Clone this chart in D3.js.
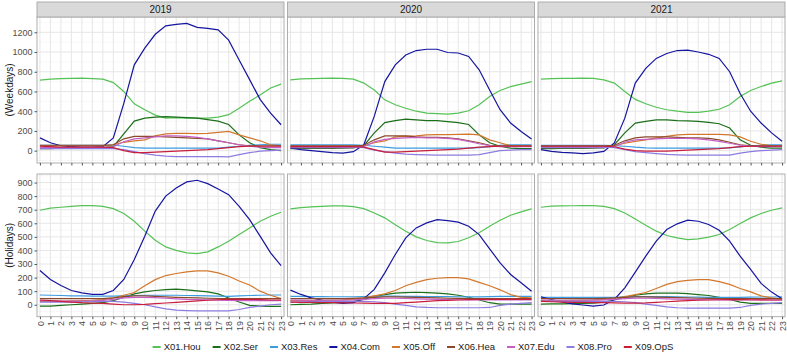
<!DOCTYPE html>
<html>
<head>
<meta charset="utf-8">
<script src="https://cdn.jsdelivr.net/npm/d3@7"></script>
<style>
  body { margin: 0; background: #fff; }
  svg { font-family: "Liberation Sans", Arial, sans-serif; }
</style>
</head>
<body>
<svg id="chart" width="787" height="357"></svg>
<script>
// data
const hours = [0,1,2,3,4,5,6,7,8,9,10,11,12,13,14,15,16,17,18,19,20,21,22,23];
const years = ["2019", "2020", "2021"];
const dayTypes = ["(Weekdays)", "(Holidays)"];
const categories = ["X01.Hou","X02.Ser","X03.Res","X04.Com","X05.Off","X06.Hea","X07.Edu","X08.Pro","X09.OpS"];
const colors = ["#55c255","#1b6f1b","#3d9be0","#1515a0","#d2782d","#8b4a2b","#c75fc7","#8f7be0","#c81e3c"];

const weekdayTicks = [0,200,400,600,800,1000,1200];
const holidayTicks = [0,100,200,300,400,500,600,700,800,900];

// one row per category, in category order
const wd2019 = [
  [715,725,730,733,735,731,725,690,600,475,415,360,330,335,330,330,330,340,365,430,500,565,635,675],
  [20,20,25,25,28,30,32,40,170,300,330,340,345,340,335,330,315,300,265,160,80,30,10,0],
  [55,55,55,55,55,55,55,55,45,30,25,25,25,25,25,25,25,25,35,45,55,60,65,65],
  [130,80,50,40,35,35,40,130,480,870,1040,1180,1265,1280,1290,1250,1240,1225,1120,920,720,520,380,263],
  [50,50,50,50,50,50,50,60,85,100,110,150,170,175,175,172,175,185,195,160,130,100,60,50],
  [55,55,55,55,55,55,55,60,120,145,145,145,140,135,130,125,120,100,80,60,50,50,50,50],
  [30,30,30,30,30,30,30,40,90,120,130,140,150,150,145,135,120,100,80,60,45,35,30,30],
  [20,20,20,20,20,20,20,20,10,-10,-30,-45,-55,-60,-60,-60,-60,-60,-62,-40,-20,-5,0,5],
  [45,40,35,35,35,35,35,30,0,-20,-20,-15,-10,-5,0,5,10,20,30,40,45,45,45,45]
];
const wd2020 = [
  [718,728,731,733,735,733,725,685,615,515,465,430,400,380,375,370,380,405,465,550,610,650,675,700],
  [20,20,22,22,24,25,28,50,180,285,305,320,313,305,305,295,285,265,160,80,45,25,20,20],
  [58,58,58,58,58,58,58,55,45,35,25,25,25,25,25,25,25,25,30,40,55,60,60,60],
  [27,10,0,-10,-20,-25,-10,60,350,700,870,970,1015,1028,1028,995,990,955,820,615,415,280,195,118],
  [45,45,45,45,45,45,45,50,80,100,140,145,150,160,162,163,165,168,160,110,80,50,50,50],
  [50,50,50,50,50,50,50,55,110,150,150,150,140,135,135,130,120,100,80,55,50,50,50,50],
  [30,30,30,30,30,30,30,40,90,115,125,130,135,130,130,125,115,95,70,50,40,40,40,40],
  [35,35,35,35,35,35,35,30,5,-10,-25,-35,-40,-43,-45,-45,-45,-45,-40,-20,0,5,10,10],
  [40,40,40,40,40,40,40,35,10,-15,-15,-10,-5,0,5,10,15,25,35,40,45,45,45,45]
];
const wd2021 = [
  [725,730,732,733,735,733,718,685,600,520,475,440,415,400,388,388,400,420,465,550,610,650,685,708],
  [20,20,22,22,24,25,28,60,180,280,297,313,313,305,303,297,286,273,230,110,55,35,25,25],
  [55,55,55,55,55,55,55,52,45,35,28,25,25,25,25,25,25,25,28,38,50,55,58,60],
  [10,-7,-17,-23,-30,-23,-7,78,330,685,835,935,985,1015,1020,1000,977,935,800,580,400,280,180,95],
  [40,40,40,40,40,40,42,50,75,95,110,130,145,160,165,165,165,165,160,140,95,65,50,45],
  [50,50,50,50,50,50,50,55,100,130,140,140,140,135,130,130,125,110,85,60,50,50,50,50],
  [30,30,30,30,30,30,30,40,85,110,115,120,125,125,125,120,110,95,75,55,45,40,40,40],
  [35,35,35,35,35,35,35,30,10,-10,-20,-30,-38,-42,-45,-45,-45,-45,-45,-25,-10,0,5,10],
  [45,45,45,45,45,45,45,40,15,0,-5,-5,-5,0,5,10,15,20,30,40,45,45,45,45]
];
const hd2019 = [
  [696,711,718,725,730,730,725,708,672,615,542,475,426,400,382,377,390,426,468,517,566,615,652,681],
  [-10,-10,-5,0,5,10,15,30,55,80,95,105,112,115,110,102,95,80,50,20,-5,-10,-12,-12],
  [72,70,68,66,65,64,63,63,65,68,70,70,70,70,68,67,65,63,62,65,68,70,72,72],
  [252,186,142,105,88,76,76,105,186,333,505,690,800,860,905,917,892,853,811,725,627,505,382,289],
  [25,25,25,28,30,33,38,50,70,90,140,185,215,230,242,250,250,235,210,175,145,100,70,45],
  [45,45,45,45,45,45,45,50,60,65,65,62,58,55,52,50,48,46,45,45,45,45,45,45],
  [30,28,27,26,26,28,32,40,50,55,55,52,48,44,40,38,36,34,32,30,30,30,30,30],
  [20,20,20,20,22,24,25,25,20,10,0,-15,-30,-40,-43,-45,-45,-45,-45,-35,-20,-10,0,5],
  [35,30,25,20,15,12,10,5,0,0,3,8,13,18,23,28,33,37,40,40,40,38,35,35]
];
const hd2020 = [
  [706,716,721,725,728,728,723,708,676,640,590,542,500,473,458,456,466,493,530,578,622,659,684,706],
  [0,3,5,10,14,18,25,40,60,75,85,90,92,90,85,80,70,55,35,15,5,5,5,5],
  [62,61,60,60,59,59,59,60,62,63,63,62,61,60,60,60,59,58,58,60,61,62,62,62],
  [108,76,51,34,20,10,15,44,113,235,370,493,566,603,627,620,608,578,517,412,309,223,162,100],
  [30,30,30,32,34,36,40,50,65,80,105,140,165,185,195,200,200,190,165,140,110,75,55,50],
  [45,45,45,45,45,45,47,50,55,58,58,56,54,52,50,48,47,46,45,45,45,45,45,45],
  [35,34,33,33,33,34,36,40,45,48,48,46,44,42,40,38,37,36,35,35,35,35,35,35],
  [20,22,24,25,25,25,25,25,22,15,5,-5,-15,-20,-22,-22,-22,-22,-22,-20,-5,5,10,15],
  [20,18,17,16,15,14,13,12,10,10,10,15,20,25,30,32,35,38,40,40,40,40,40,40]
];
const hd2021 = [
  [718,726,728,729,730,730,725,708,676,632,586,542,510,493,480,485,498,517,554,598,640,672,696,713],
  [5,6,7,8,10,12,20,35,55,70,80,85,85,85,82,75,68,55,40,20,10,10,10,10],
  [55,55,55,55,55,55,55,55,58,60,60,60,60,58,57,56,55,55,55,55,56,57,57,58],
  [59,39,20,7,-2,-10,-2,39,125,240,358,468,554,596,623,615,591,549,468,358,260,157,93,44],
  [30,30,30,32,34,36,40,48,60,75,90,120,150,170,180,185,185,170,150,120,95,65,50,40],
  [45,45,45,45,45,45,47,50,55,58,58,56,54,52,50,48,47,46,45,45,45,45,45,45],
  [35,34,33,33,33,34,36,40,45,48,48,46,44,42,40,38,37,36,35,35,35,35,35,35],
  [25,25,25,25,25,25,25,25,22,15,5,-5,-15,-22,-25,-25,-25,-25,-25,-20,-5,5,10,15],
  [25,22,20,18,17,16,15,14,12,12,14,18,22,26,30,33,35,37,38,38,37,36,35,35]
];

const panelData = [[wd2019, wd2020, wd2021], [hd2019, hd2020, hd2021]];

// layout
const svg = d3.select('#chart');
const panelLeft = [37, 287.5, 538];
const panelWidth = 247;
const rows = [
  { top: 17, bottom: 163, domain: [-125, 1355], ticks: weekdayTicks, minorStep: 100 },
  { top: 174, bottom: 316.7, domain: [-88, 963], ticks: holidayTicks, minorStep: 50 }
];

const gridMajor = '#e6e6e6';
const gridMinor = '#f2f2f2';
const borderColor = '#a6a6a6';
const axisText = '#4d4d4d';
const fontStack = '"Liberation Sans", Arial, sans-serif';

rows.forEach((row, r) => {
  const y = d3.scaleLinear().domain(row.domain).range([row.bottom, row.top]);
  const minorTicks = d3.range(row.ticks[0] - row.minorStep, row.ticks[row.ticks.length - 1] + row.minorStep * 2, row.minorStep * 2)
    .filter(v => v > row.domain[0] && v < row.domain[1]);

  years.forEach((year, c) => {
    const x = d3.scaleLinear().domain([-0.28, 23.28]).range([panelLeft[c], panelLeft[c] + panelWidth]);
    const g = svg.append('g');

    g.append('rect')
      .attr('x', panelLeft[c]).attr('y', row.top)
      .attr('width', panelWidth).attr('height', row.bottom - row.top)
      .attr('fill', '#fff');

    // grid
    g.selectAll('.minor')
      .data(minorTicks)
      .enter().append('line')
      .attr('x1', panelLeft[c]).attr('x2', panelLeft[c] + panelWidth)
      .attr('y1', d => y(d)).attr('y2', d => y(d))
      .attr('stroke', gridMinor).attr('stroke-width', 0.6);

    g.selectAll('.major')
      .data(row.ticks)
      .enter().append('line')
      .attr('x1', panelLeft[c]).attr('x2', panelLeft[c] + panelWidth)
      .attr('y1', d => y(d)).attr('y2', d => y(d))
      .attr('stroke', gridMajor).attr('stroke-width', 1);

    g.selectAll('.vgrid')
      .data(hours)
      .enter().append('line')
      .attr('x1', d => x(d)).attr('x2', d => x(d))
      .attr('y1', row.top).attr('y2', row.bottom)
      .attr('stroke', gridMajor).attr('stroke-width', 1);

    // series
    const line = d3.line()
      .x((d, i) => x(hours[i]))
      .y(d => y(d));

    panelData[r][c].forEach((values, k) => {
      g.append('path')
        .datum(values)
        .attr('d', line)
        .attr('fill', 'none')
        .attr('stroke', colors[k])
        .attr('stroke-width', 1.2);
    });

    g.append('rect')
      .attr('x', panelLeft[c]).attr('y', row.top)
      .attr('width', panelWidth).attr('height', row.bottom - row.top)
      .attr('fill', 'none')
      .attr('stroke', borderColor).attr('stroke-width', 0.9);

    // x axis: ticks on both rows, labels only on the bottom row
    const xAxis = d3.axisBottom(x).tickValues(hours).tickSize(2.5).tickSizeOuter(0).tickPadding(2);
    const xg = g.append('g')
      .attr('transform', `translate(0,${row.bottom})`)
      .call(xAxis);
    xg.select('.domain').remove();
    xg.selectAll('.tick line').attr('stroke', '#555');
    if (r === 0) {
      xg.selectAll('.tick text').remove();
    } else {
      xg.selectAll('.tick text')
        .attr('transform', 'rotate(-90)')
        .attr('x', -4.5).attr('y', 0).attr('dy', '0.35em')
        .style('text-anchor', 'end')
        .attr('fill', axisText)
        .style('font-size', '8.8px')
        .style('font-family', fontStack);
    }

    // y axis only on the first column
    if (c === 0) {
      const yAxis = d3.axisLeft(y).tickValues(row.ticks).tickFormat(d3.format('d'))
        .tickSize(2.5).tickSizeOuter(0).tickPadding(2);
      const yg = g.append('g')
        .attr('transform', `translate(${panelLeft[c]},0)`)
        .call(yAxis);
      yg.select('.domain').remove();
      yg.selectAll('.tick line').attr('stroke', '#555');
      yg.selectAll('.tick text')
        .attr('fill', axisText)
        .style('font-size', '9px')
        .style('font-family', fontStack);
    }

    // strip on top row
    if (r === 0) {
      svg.append('rect')
        .attr('x', panelLeft[c]).attr('y', 2)
        .attr('width', panelWidth).attr('height', 15)
        .attr('fill', '#d9d9d9')
        .attr('stroke', borderColor).attr('stroke-width', 0.9);
      svg.append('text')
        .attr('x', panelLeft[c] + panelWidth / 2).attr('y', 9.5)
        .attr('dy', '0.35em')
        .attr('text-anchor', 'middle')
        .attr('fill', '#1a1a1a')
        .style('font-size', '10px')
        .text(year);
    }
  });

  // row title
  svg.append('text')
    .attr('transform', `translate(9,${(row.top + row.bottom) / 2}) rotate(-90)`)
    .attr('dy', '0.35em')
    .attr('text-anchor', 'middle')
    .attr('fill', '#1a1a1a')
    .style('font-size', '10px')
    .text(dayTypes[r]);
});

// legend at bottom
const legend = svg.append('g').attr('transform', 'translate(0,347)');
let cursor = 0;
const items = [];
categories.forEach((name, k) => {
  const item = legend.append('g');
  item.append('line')
    .attr('x1', 0).attr('x2', 8)
    .attr('y1', 0).attr('y2', 0)
    .attr('stroke', colors[k]).attr('stroke-width', 2);
  const t = item.append('text')
    .attr('x', 11).attr('dy', '0.35em')
    .attr('fill', '#1a1a1a')
    .style('font-size', '9.5px')
    .text(name);
  const w = 11 + t.node().getComputedTextLength();
  items.push({ item, x: cursor });
  cursor += w + 12;
});
const totalWidth = cursor - 12;
const start = 413 - totalWidth / 2;
items.forEach(d => d.item.attr('transform', `translate(${start + d.x},0)`));
</script>
</body>
</html>
